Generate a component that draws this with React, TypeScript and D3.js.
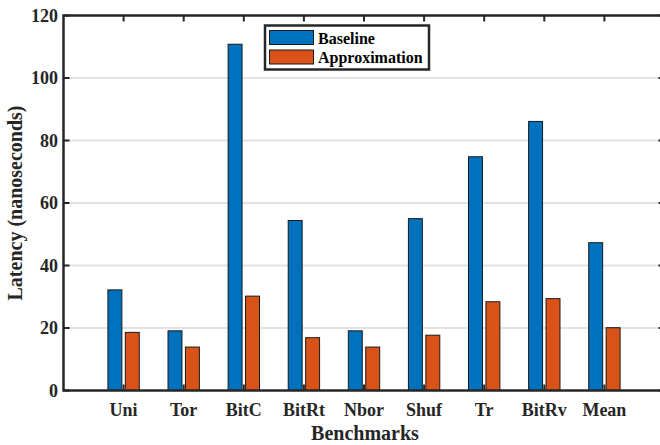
import React from "react";
import * as d3 from "d3";

const categories = ["Uni", "Tor", "BitC", "BitRt", "Nbor", "Shuf", "Tr", "BitRv", "Mean"];
const baseline = [32.2, 19.1, 110.8, 54.4, 19.1, 55.0, 74.8, 86.1, 47.3];
const approximation = [18.6, 13.9, 30.2, 16.9, 13.9, 17.7, 28.4, 29.4, 20.1];
const yTicks = [0, 20, 40, 60, 80, 100, 120];
const seriesNames = ["Baseline", "Approximation"];
const colors = ["#0072BD", "#D95319"];

const W = 660;
const H = 445;
const FONT = "'Liberation Serif', 'Times New Roman', serif";
const AX = "#262626";

export default function App() {
  const x = d3.scaleLinear().domain([0, 10]).range([63.5, 664.5]);
  const y = d3.scaleLinear().domain([0, 120]).range([390.5, 15.5]);
  const unit = x(1) - x(0);
  const bw = 0.232 * unit;
  const off = 0.145 * unit;
  const series = [baseline, approximation];

  return (
    <svg width={W} height={H} style={{ position: "absolute", left: 0, top: 0, background: "#fff" }}>
      <rect x={0} y={0} width={W} height={H} fill="#fff" />
      {yTicks.filter((t) => t > 0 && t < 120).map((t) => (
        <line key={"g" + t} x1={x(0)} x2={x(10)} y1={y(t)} y2={y(t)} stroke="#e3e3e3" strokeWidth={2} />
      ))}
      {series.map((vals, si) =>
        vals.map((v, i) => {
          const cx = x(i + 1) + (si === 0 ? -off : off);
          return (
            <rect
              key={si + "-" + i}
              x={cx - bw / 2}
              y={y(v)}
              width={bw}
              height={y(0) - y(v)}
              fill={colors[si]}
              stroke="#1a1a1a"
              strokeWidth={1}
            />
          );
        })
      )}
      {categories.map((c, i) => (
        <g key={"xt" + c}>
          <line x1={x(i + 1)} x2={x(i + 1)} y1={y(0)} y2={y(0) - 6} stroke={AX} strokeWidth={2} />
          <line x1={x(i + 1)} x2={x(i + 1)} y1={y(120)} y2={y(120) + 6} stroke={AX} strokeWidth={2} />
          <text x={x(i + 1)} y={416} textAnchor="middle" fontFamily={FONT} fontWeight="bold" fontSize={18} fill={AX}>
            {c}
          </text>
        </g>
      ))}
      {yTicks.map((t) => (
        <g key={"yt" + t}>
          <line x1={x(0)} x2={x(0) + 6} y1={y(t)} y2={y(t)} stroke={AX} strokeWidth={2} />
          <line x1={x(10)} x2={x(10) - 6} y1={y(t)} y2={y(t)} stroke={AX} strokeWidth={2} />
          <text x={58} y={y(t) + 6} textAnchor="end" fontFamily={FONT} fontWeight="bold" fontSize={18} fill={AX}>
            {t}
          </text>
        </g>
      ))}
      <rect x={x(0)} y={y(120)} width={x(10) - x(0)} height={y(0) - y(120)} fill="none" stroke={AX} strokeWidth={2.5} />
      <text x={365} y={440} textAnchor="middle" fontFamily={FONT} fontWeight="bold" fontSize={20} fill={AX}>
        Benchmarks
      </text>
      <text
        transform={`translate(22, ${(y(0) + y(120)) / 2}) rotate(-90)`}
        textAnchor="middle"
        fontFamily={FONT}
        fontWeight="bold"
        fontSize={20}
        fill={AX}
      >
        Latency (nanoseconds)
      </text>
      <g>
        <rect x={265} y={25.5} width={164} height={44} fill="#fff" stroke={AX} strokeWidth={2.5} />
        {seriesNames.map((n, i) => (
          <g key={n}>
            <rect x={269.5} y={30.5 + i * 19.5} width={44} height={14} fill={colors[i]} stroke="#1a1a1a" strokeWidth={1} />
            <text x={318} y={43.5 + i * 19.5} fontFamily={FONT} fontWeight="bold" fontSize={16} fill="#000">
              {n}
            </text>
          </g>
        ))}
      </g>
    </svg>
  );
}
